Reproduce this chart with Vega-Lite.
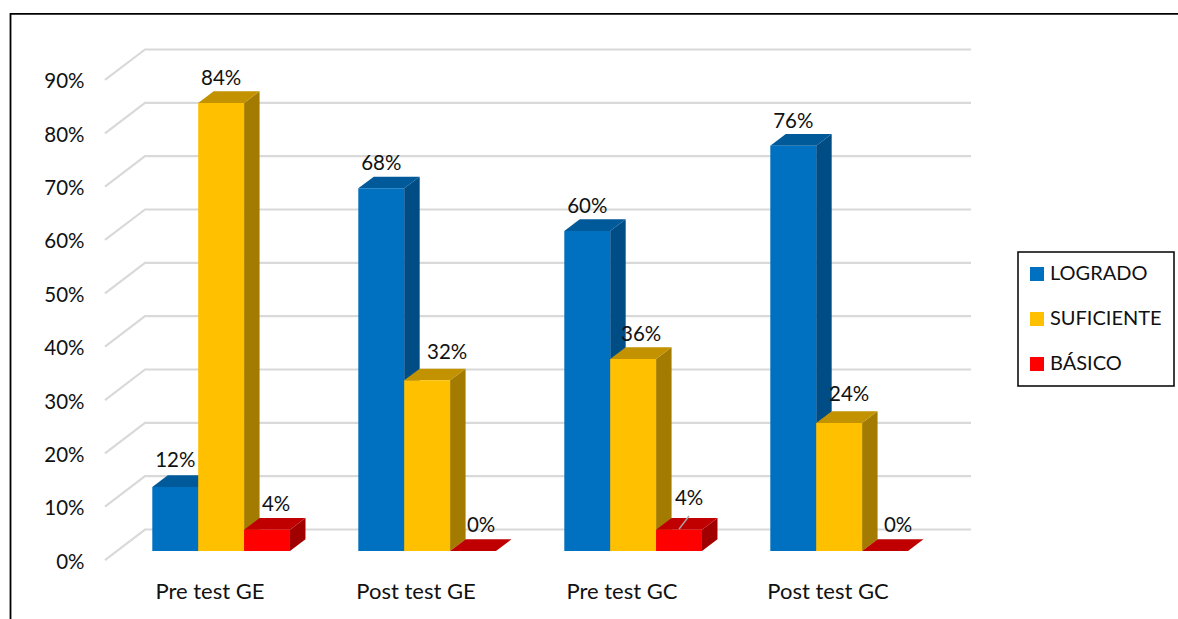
{
"$schema":"https://vega.github.io/schema/vega-lite/v6.json",
"width":1168,"height":606,
"autosize":{"type":"none"},
"padding":{"left":10,"top":13,"right":0,"bottom":0},
"background":"white",
"config":{"view":{"stroke":null},"font":"Lato","legend":{"strokeWidth":1.5}},
"datasets":{
"bars":[
{"grupo":"Pre test GE","nivel":"LOGRADO","valor":12},
{"grupo":"Pre test GE","nivel":"SUFICIENTE","valor":84},
{"grupo":"Pre test GE","nivel":"BÁSICO","valor":4},
{"grupo":"Post test GE","nivel":"LOGRADO","valor":68},
{"grupo":"Post test GE","nivel":"SUFICIENTE","valor":32},
{"grupo":"Post test GE","nivel":"BÁSICO","valor":0},
{"grupo":"Pre test GC","nivel":"LOGRADO","valor":60},
{"grupo":"Pre test GC","nivel":"SUFICIENTE","valor":36},
{"grupo":"Pre test GC","nivel":"BÁSICO","valor":4},
{"grupo":"Post test GC","nivel":"LOGRADO","valor":76},
{"grupo":"Post test GC","nivel":"SUFICIENTE","valor":24},
{"grupo":"Post test GC","nivel":"BÁSICO","valor":0}
],
"ticks":[{"tick":0},{"tick":10},{"tick":20},{"tick":30},{"tick":40},{"tick":50},{"tick":60},{"tick":70},{"tick":80},{"tick":90}],
"frame":[{"borde":"marco"}]
},
"layer":[
{
"encoding":{
"x":{"field":"px","type":"quantitative","scale":{"domain":[-0.96845,4.70146],"nice":false},
"axis":{"values":[0,1,2,3],"labelExpr":"['Pre test GE','Post test GE','Pre test GC','Post test GC'][datum.value]","title":null,"grid":false,"domain":false,"ticks":false,"offset":-38,"labelPadding":0,"labelFontSize":22,"labelFont":"Lato","labelColor":"#111111","labelFlush":false,"labelOverlap":false}},
"y":{"field":"py","type":"quantitative","scale":{"domain":[-11.06,102.56],"nice":false},
"axis":{"values":[0,10,20,30,40,50,60,70,80,90],"labelExpr":"datum.value+'%'","title":null,"grid":false,"domain":false,"ticks":false,"offset":-76,"labelPadding":2,"labelOffset":2,"labelFontSize":20.5,"labelFont":"Lato","labelColor":"#111111","labelFlush":false,"labelOverlap":false}}
},
"layer":[
{
"data":{"name":"ticks"},
"transform":[
{"calculate":"[-0.5073,-0.3131,3.6966]","as":"px"},
{"calculate":"[datum.tick,datum.tick+5.72,datum.tick+5.72]","as":"py"},
{"flatten":["px","py"]}
],
"mark":{"type":"line","color":"#D9D9D9","strokeWidth":2.2},
"encoding":{"detail":{"field":"tick"}}
},
{
"data":{"name":"bars"},
"transform":[
{"calculate":"indexof(['Pre test GE','Post test GE','Pre test GC','Post test GC'],datum.grupo)","as":"g"},
{"calculate":"indexof(['LOGRADO','SUFICIENTE','BÁSICO'],datum.nivel)","as":"s"},
{"calculate":"datum.g*3+datum.s","as":"idx"},
{"calculate":"datum.g-0.2777+0.2228*datum.s","as":"left"},
{"calculate":"datum.left+0.2228","as":"right"},
{"calculate":"1.6875","as":"base"},
{"calculate":"datum.base+datum.valor","as":"top"}
],
"layer":[
{
"transform":[
{"calculate":"['#004C84','#A37B00','#A00000'][datum.s]","as":"face"},
{"calculate":"[datum.right,datum.right+0.0752]","as":"px"},
{"calculate":"[datum.base,datum.base+2.19]","as":"py"},
{"calculate":"[datum.top,datum.top+2.19]","as":"py2"},
{"flatten":["px","py","py2"]}
],
"mark":{"type":"area","orient":"vertical"},
"encoding":{
"y2":{"field":"py2"},
"fill":{"field":"face","type":"nominal","scale":null,"legend":null},
"detail":{"field":"idx"}
}
},
{
"transform":[
{"calculate":"['#005A9A','#C29200','#C00000'][datum.s]","as":"face"},
{"calculate":"[datum.left,datum.left+0.0752,datum.right,datum.right+0.0752]","as":"px"},
{"calculate":"[datum.top,datum.top,datum.top,datum.top+2.19]","as":"py"},
{"calculate":"[datum.top,datum.top+2.19,datum.top+2.19,datum.top+2.19]","as":"py2"},
{"flatten":["px","py","py2"]}
],
"mark":{"type":"area","orient":"vertical"},
"encoding":{
"y2":{"field":"py2"},
"fill":{"field":"face","type":"nominal","scale":null,"legend":null},
"detail":{"field":"idx"}
}
},
{
"transform":[
{"calculate":"datum.left","as":"px"},
{"calculate":"datum.right","as":"px2"},
{"calculate":"datum.base","as":"py"},
{"calculate":"datum.top","as":"py2"}
],
"mark":{"type":"rect"},
"encoding":{
"x2":{"field":"px2"},
"y2":{"field":"py2"},
"color":{"field":"nivel","type":"nominal","sort":null,
"scale":{"domain":["LOGRADO","SUFICIENTE","BÁSICO"],"range":["#0070C0","#FFC000","#FF0000"]},
"legend":{"title":null,"orient":"none","legendX":1008,"legendY":239,"strokeColor":"#000000","fillColor":"#FFFFFF","padding":12,"rowPadding":25,"symbolType":"square","symbolSize":196,"symbolStrokeWidth":0,"symbolOffset":-3,"labelFontSize":20,"labelFont":"Lato","labelColor":"#111111","labelOffset":3}}
}
},
{
"transform":[
{"calculate":"datum.left+0.1114+[0,0,9,0,20,8,0,8,10,0,10,13][datum.idx]/206","as":"px"},
{"calculate":"datum.top+[26,24,24.6,24,27,25,24,24,30.6,24,28,25][datum.idx]/5.333","as":"py"},
{"calculate":"datum.valor+'%'","as":"etiqueta"}
],
"mark":{"type":"text","font":"Lato","fontSize":20.5,"align":"center","baseline":"middle","color":"#111111"},
"encoding":{"text":{"field":"etiqueta"}}
},
{
"transform":[
{"filter":"datum.idx==8"},
{"calculate":"[datum.left+0.1114,datum.left+0.1114+10/206]","as":"px"},
{"calculate":"[datum.top+0.1,datum.top+2.55]","as":"py"},
{"flatten":["px","py"]}
],
"mark":{"type":"line","color":"#A6A6A6","strokeWidth":1.5}
}
]
}
]
},
{
"data":{"name":"frame"},
"mark":{"type":"rule","color":"#000000","strokeWidth":1.8},
"encoding":{"y":{"datum":102.38,"type":"quantitative","scale":{"domain":[-11.06,102.56],"nice":false}}}
},
{
"data":{"name":"frame"},
"mark":{"type":"rule","color":"#000000","strokeWidth":1.8},
"encoding":{"x":{"datum":-0.966,"type":"quantitative","scale":{"domain":[-0.96845,4.70146],"nice":false}}}
}
]
}
